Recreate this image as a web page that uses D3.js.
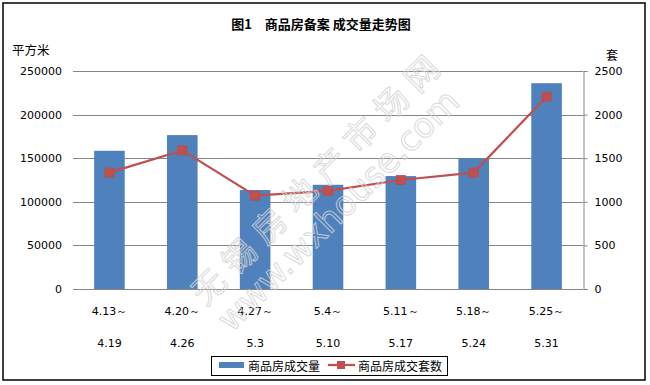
<!DOCTYPE html>
<html>
<head>
<meta charset="utf-8">
<script src="https://cdn.jsdelivr.net/npm/d3@7"></script>
<style>
  body { margin: 0; background: #fff; }
  text { font-family: "DejaVu Sans", sans-serif; }
  .cjk { font-family: "Noto Sans CJK SC", sans-serif; }
</style>
</head>
<body>
<div id="chart"></div>
<script>
(function () {

var weeksStart = ['4.13～', '4.20～', '4.27～', '5.4～', '5.11～', '5.18～', '5.25～'];
var weeksEnd   = ['4.19', '4.26', '5.3', '5.10', '5.17', '5.24', '5.31'];
var area  = [158500, 176500, 113500, 119500, 129500, 150000, 236000];   // 商品房成交量 (平方米)
var units = [1335, 1590, 1070, 1125, 1250, 1335, 2205];                 // 商品房成交套数 (套)
var leftTicks  = [0, 50000, 100000, 150000, 200000, 250000];
var rightTicks = [0, 500, 1000, 1500, 2000, 2500];

var width = 650, height = 385;
var plot = {left: 73, right: 583, top: 71, bottom: 289};

var svg = d3.select('#chart')
            .append('svg')
            .attr('width', width)
            .attr('height', height);

// outer frame
svg.append('rect')
   .attr('x', 3).attr('y', 3)
   .attr('width', 642).attr('height', 377)
   .attr('fill', '#fff')
   .attr('stroke', '#000')
   .attr('stroke-width', 1.5);

var x = d3.scaleBand()
          .domain(d3.range(weeksStart.length))
          .range([plot.left, plot.right])
          .paddingInner(0.58)
          .paddingOuter(0.29);

var yLeft = d3.scaleLinear().domain([0, 250000]).range([plot.bottom, plot.top]);
var yRight = d3.scaleLinear().domain([0, 2500]).range([plot.bottom, plot.top]);

// gridlines
svg.append('g')
   .selectAll('line')
   .data(leftTicks)
   .enter().append('line')
   .attr('x1', plot.left).attr('x2', plot.right)
   .attr('y1', function(d) { return Math.round(yLeft(d)) + 0.5; })
   .attr('y2', function(d) { return Math.round(yLeft(d)) + 0.5; })
   .attr('stroke', '#868686');

// left axis labels
svg.append('g')
   .selectAll('text')
   .data(leftTicks)
   .enter().append('text')
   .attr('x', 62)
   .attr('y', function(d) { return yLeft(d) + 4; })
   .attr('text-anchor', 'end')
   .attr('font-size', 11)
   .text(function(d) { return d; });

// right axis
var rAxis = svg.append('g')
   .attr('transform', 'translate(' + (plot.right + 0.5) + ',0)')
   .call(d3.axisRight(yRight).tickValues(rightTicks).tickSize(4).tickPadding(7).tickFormat(d3.format('d')));
rAxis.select('.domain').attr('stroke', '#868686');
rAxis.selectAll('.tick line').attr('stroke', '#868686');
rAxis.selectAll('.tick text')
     .attr('font-size', 11)
     .attr('font-family', '"DejaVu Sans", sans-serif')
     .attr('fill', '#000');

// bars
svg.append('g')
   .selectAll('rect')
   .data(area)
   .enter().append('rect')
   .attr('x', function(d, i) { return x(i); })
   .attr('y', function(d) { return yLeft(d); })
   .attr('width', x.bandwidth())
   .attr('height', function(d) { return yLeft(0) - yLeft(d); })
   .attr('fill', '#4F81BD');

// line + markers
var line = d3.line()
             .x(function(d, i) { return x(i) + x.bandwidth() / 2; })
             .y(function(d) { return yRight(d); });

svg.append('path')
   .datum(units)
   .attr('d', line)
   .attr('fill', 'none')
   .attr('stroke', '#C0504D')
   .attr('stroke-width', 2.25);

svg.append('g')
   .selectAll('rect')
   .data(units)
   .enter().append('rect')
   .attr('x', function(d, i) { return x(i) + x.bandwidth() / 2 - 4.5; })
   .attr('y', function(d) { return yRight(d) - 4.5; })
   .attr('width', 9).attr('height', 9)
   .attr('fill', '#C0504D')
   .attr('stroke', '#B94B48')
   .attr('stroke-width', 0.75);

// category labels (two lines)
var cats = svg.append('g');
cats.selectAll('text.start')
    .data(weeksStart)
    .enter().append('text')
    .attr('class', 'start')
    .attr('x', function(d, i) { return x(i) + x.bandwidth() / 2; })
    .attr('y', 315)
    .attr('text-anchor', 'middle')
    .attr('font-size', 11)
    .text(function(d) { return d; });
cats.selectAll('text.end')
    .data(weeksEnd)
    .enter().append('text')
    .attr('class', 'end')
    .attr('x', function(d, i) { return x(i) + x.bandwidth() / 2; })
    .attr('y', 347)
    .attr('text-anchor', 'middle')
    .attr('font-size', 11)
    .text(function(d) { return d; });

// title and unit labels
svg.append('text')
   .attr('class', 'cjk')
   .attr('x', 321).attr('y', 29)
   .attr('text-anchor', 'middle')
   .attr('font-size', 13)
   .attr('font-weight', 'bold')
   .text('图1　商品房备案 成交量走势图');

svg.append('text')
   .attr('class', 'cjk')
   .attr('x', 12).attr('y', 55)
   .attr('font-size', 12.5)
   .text('平方米');

svg.append('text')
   .attr('class', 'cjk')
   .attr('x', 606).attr('y', 60)
   .attr('font-size', 12)
   .text('套');

// legend
var lg = svg.append('g');
lg.append('rect')
  .attr('x', 211.5).attr('y', 356.5)
  .attr('width', 236).attr('height', 19)
  .attr('fill', '#fff')
  .attr('stroke', '#000');
lg.append('rect')
  .attr('x', 219).attr('y', 362)
  .attr('width', 25).attr('height', 6)
  .attr('fill', '#4F81BD');
lg.append('text')
  .attr('class', 'cjk')
  .attr('x', 248).attr('y', 370.5)
  .attr('font-size', 12)
  .text('商品房成交量');
lg.append('line')
  .attr('x1', 328).attr('x2', 355)
  .attr('y1', 365).attr('y2', 365)
  .attr('stroke', '#C0504D')
  .attr('stroke-width', 2.25);
lg.append('rect')
  .attr('x', 337).attr('y', 361)
  .attr('width', 8).attr('height', 8)
  .attr('fill', '#C0504D');
lg.append('text')
  .attr('class', 'cjk')
  .attr('x', 358).attr('y', 370.5)
  .attr('font-size', 12)
  .text('商品房成交套数');

// watermark
var wm = svg.append('g')
            .attr('fill', 'none')
            .attr('stroke', '#d4d4d4')
            .attr('stroke-width', 1)
            .attr('opacity', 0.85);
wm.append('text')
  .attr('class', 'cjk')
  .attr('transform', 'translate(319,177) rotate(-45)')
  .attr('text-anchor', 'middle')
  .attr('dy', '0.35em')
  .attr('font-size', 33)
  .attr('letter-spacing', 10)
  .text('无锡房地产市场网');
wm.append('text')
  .attr('transform', 'translate(338,210) rotate(-45)')
  .attr('text-anchor', 'middle')
  .attr('dy', '0.35em')
  .attr('font-size', 34)
  .text('www.wxhouse.com');

})();
</script>
</body>
</html>
